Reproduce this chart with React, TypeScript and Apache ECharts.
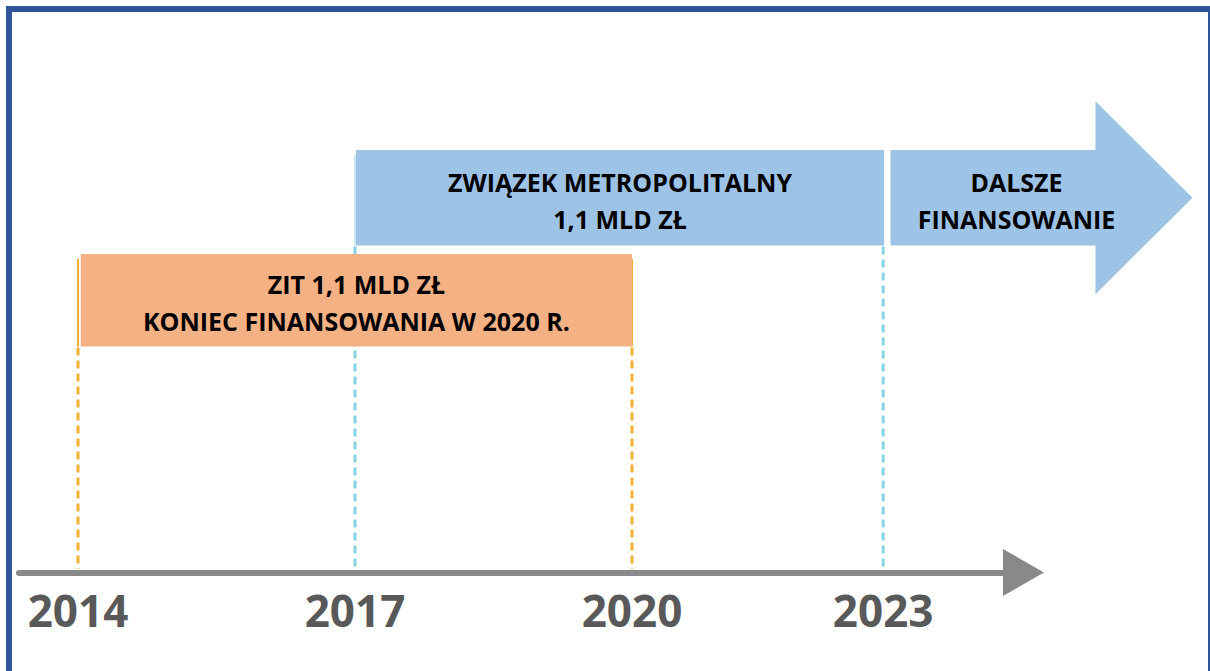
import React, { useEffect, useRef } from "react";
import * as echarts from "echarts";

// ---- data ----
const milestoneLabels = ["2014", "2017", "2020", "2023"];
const milestoneValues = [2014, 2017, 2020, 2022.72];
const milestoneRow = [0, 1, 0, 1];

const phaseNames = [
  "ZIT 1,1 MLD ZŁ\nKONIEC FINANSOWANIA W 2020 R.",
  "ZWIĄZEK METROPOLITALNY\n1,1 MLD ZŁ",
  "DALSZE\nFINANSOWANIE",
];
const phaseStart = [2014.03, 2017.01, 2022.8];
const phaseEnd = [2020.0, 2022.73, 2026.07];
const phaseRow = [0, 1, 1];
const phaseIsArrow = [0, 0, 1];

// ---- styles / layout ----
const ROW_TOP = [254, 150];
const ROW_H = [92.5, 95.5];
const PHASE_COLORS = ["#F4B183", "#9DC3E6", "#9DC3E6"];
const DASH_COLORS = ["#F2B134", "#86D3E6"];
const EDGE_COLORS = ["#F2B134", "#CDEBF4"];
const AXIS_TOP = 569;
const FONT = '"Open Sans", "Noto Sans", sans-serif';

export default function App() {
  const ref = useRef<HTMLDivElement>(null);

  useEffect(() => {
    if (!ref.current) return;
    const chart = echarts.init(ref.current, undefined, { renderer: "svg" });

    const option: any = {
      animation: false,
      backgroundColor: "#ffffff",
      grid: { left: 19, right: 186.5, top: 100, bottom: 98.5 },
      xAxis: {
        type: "value",
        min: 2013.361,
        max: 2024.24,
        axisLine: {
          show: true,
          onZero: false,
          symbol: ["none", "triangle"],
          symbolSize: [47, 41],
          lineStyle: { color: "#898989", width: 6 },
        },
        axisTick: { show: false },
        axisLabel: { show: false },
        splitLine: { show: false },
      },
      yAxis: { type: "value", min: 0, max: 1, show: false },
      graphic: [
        {
          type: "rect",
          shape: { x: 9, y: 9, width: 1202, height: 700 },
          style: { fill: "none", stroke: "#2F5597", lineWidth: 6 },
          z: 100,
        },
      ],
      series: [
        {
          type: "custom",
          z: 1,
          data: milestoneValues.map((v, i) => [v, milestoneRow[i]]),
          renderItem: (params: any, api: any) => {
            const i = params.dataIndex;
            const x = api.coord([api.value(0), 0])[0];
            const row = api.value(1);
            const top = ROW_TOP[row];
            const bottom = ROW_TOP[row] + ROW_H[row];
            return {
              type: "group",
              children: [
                {
                  type: "line",
                  shape: { x1: x, y1: top + 5, x2: x, y2: bottom },
                  style: { stroke: EDGE_COLORS[row], lineWidth: 2 },
                },
                {
                  type: "line",
                  shape: { x1: x, y1: bottom + 1, x2: x, y2: AXIS_TOP },
                  style: {
                    stroke: DASH_COLORS[row],
                    lineWidth: 3,
                    lineDash: [8, 5],
                  },
                },
                {
                  type: "text",
                  x: x,
                  y: 610,
                  style: {
                    text: milestoneLabels[i],
                    fill: "#595959",
                    fontSize: 44,
                    fontWeight: "bold",
                    fontFamily: FONT,
                    align: "center",
                    verticalAlign: "middle",
                  },
                },
              ],
            };
          },
        },
        {
          type: "custom",
          z: 2,
          data: phaseStart.map((s, i) => [s, phaseEnd[i], phaseRow[i], phaseIsArrow[i]]),
          renderItem: (params: any, api: any) => {
            const i = params.dataIndex;
            const x0 = api.coord([api.value(0), 0])[0];
            const x1 = api.coord([api.value(1), 0])[0];
            const row = api.value(2);
            const arrow = api.value(3) === 1;
            const top = ROW_TOP[row];
            const h = ROW_H[row];
            const bottom = top + h;
            const cy = top + h / 2;
            let shapeEl: any;
            let cx = (x0 + x1) / 2;
            if (arrow) {
              const headLen = 97;
              const halfHead = 96.5;
              const xh = x1 - headLen;
              shapeEl = {
                type: "polygon",
                shape: {
                  points: [
                    [x0, top],
                    [xh, top],
                    [xh, cy - halfHead],
                    [x1, cy],
                    [xh, cy + halfHead],
                    [xh, bottom],
                    [x0, bottom],
                  ],
                },
                style: { fill: PHASE_COLORS[i] },
              };
              cx = x0 + 126;
            } else {
              shapeEl = {
                type: "rect",
                shape: { x: x0, y: top, width: x1 - x0, height: h },
                style: { fill: PHASE_COLORS[i] },
              };
            }
            return {
              type: "group",
              children: [
                shapeEl,
                {
                  type: "text",
                  x: cx,
                  y: cy + 2.5,
                  style: {
                    text: phaseNames[i],
                    fill: "#000000",
                    fontSize: 25,
                    fontWeight: "bold",
                    fontFamily: FONT,
                    lineHeight: 37,
                    align: "center",
                    verticalAlign: "middle",
                  },
                },
              ],
            };
          },
        },
      ],
    };

    chart.setOption(option);
    return () => chart.dispose();
  }, []);

  return (
    <div
      ref={ref}
      style={{ position: "fixed", left: 0, top: 0, width: 1210, height: 671 }}
    />
  );
}
